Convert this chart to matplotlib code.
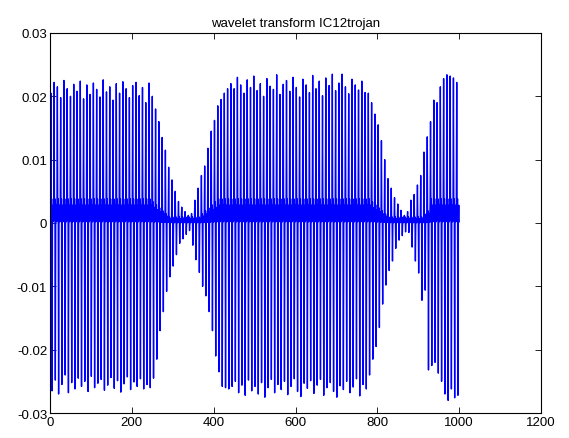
import numpy as np
import matplotlib
matplotlib.use('Agg')
import matplotlib.pyplot as plt

# Коэффициенты вейвлет-преобразования, по блокам из 8 отсчётов:
# в каждом блоке один положительный и один отрицательный выброс
hi = [0.0205, 0.0222, 0.0215, 0.0198, 0.0225, 0.0212, 0.0200, 0.0219, 0.0208, 0.0224,
      0.0196, 0.0218, 0.0203, 0.0221, 0.0211, 0.0199, 0.0226, 0.0207, 0.0215, 0.0194,
      0.0220, 0.0205, 0.0223, 0.0212, 0.0198, 0.0217, 0.0222, 0.0201, 0.0214, 0.0190,
      0.0221, 0.0200, 0.0180, 0.0160, 0.0135, 0.0115, 0.0088, 0.0068, 0.0050, 0.0034,
      0.0025, 0.0018, 0.0012, 0.0015, 0.0036, 0.0055, 0.0075, 0.0090, 0.0118, 0.0145,
      0.0162, 0.0185, 0.0195, 0.0205, 0.0212, 0.0220, 0.0212, 0.0230, 0.0218, 0.0205,
      0.0226, 0.0214, 0.0232, 0.0209, 0.0220, 0.0200, 0.0228, 0.0216, 0.0211, 0.0234,
      0.0203, 0.0219, 0.0225, 0.0208, 0.0230, 0.0214, 0.0199, 0.0227, 0.0218, 0.0206,
      0.0233, 0.0212, 0.0224, 0.0201, 0.0229, 0.0217, 0.0235, 0.0209, 0.0221, 0.0235,
      0.0215, 0.0204, 0.0227, 0.0218, 0.0210, 0.0224, 0.0206, 0.0205, 0.0190, 0.0172,
      0.0155, 0.0130, 0.0100, 0.0070, 0.0055, 0.0040, 0.0030, 0.0020, 0.0012, 0.0018,
      0.0036, 0.0045, 0.0060, 0.0075, 0.0112, 0.0136, 0.0160, 0.0194, 0.0190, 0.0215,
      0.0228, 0.0234, 0.0232, 0.0229, 0.0222]
lo = [-0.0265, -0.0248, -0.0270, -0.0255, -0.0240, -0.0268, -0.0252, -0.0262, -0.0245, -0.0258,
      -0.0250, -0.0266, -0.0242, -0.0260, -0.0253, -0.0247, -0.0264, -0.0256, -0.0244, -0.0261,
      -0.0249, -0.0267, -0.0254, -0.0243, -0.0263, -0.0251, -0.0258, -0.0246, -0.0262, -0.0255,
      -0.0260, -0.0245, -0.0215, -0.0170, -0.0140, -0.0108, -0.0085, -0.0068, -0.0050, -0.0032,
      -0.0025, -0.0018, -0.0012, -0.0035, -0.0058, -0.0078, -0.0100, -0.0115, -0.0140, -0.0170,
      -0.0210, -0.0235, -0.0258, -0.0260, -0.0262, -0.0258, -0.0250, -0.0268, -0.0256, -0.0272,
      -0.0248, -0.0265, -0.0258, -0.0270, -0.0252, -0.0275, -0.0260, -0.0247, -0.0268, -0.0255,
      -0.0263, -0.0250, -0.0271, -0.0258, -0.0246, -0.0266, -0.0274, -0.0253, -0.0261, -0.0249,
      -0.0269, -0.0256, -0.0247, -0.0272, -0.0260, -0.0252, -0.0266, -0.0275, -0.0257, -0.0263,
      -0.0250, -0.0268, -0.0259, -0.0246, -0.0273, -0.0255, -0.0262, -0.0240, -0.0215, -0.0195,
      -0.0165, -0.0128, -0.0098, -0.0075, -0.0060, -0.0040, -0.0027, -0.0020, -0.0014, -0.0015,
      -0.0038, -0.0060, -0.0079, -0.0122, -0.0106, -0.0232, -0.0225, -0.0220, -0.0237, -0.0250,
      -0.0270, -0.0280, -0.0262, -0.0276, -0.0272]
# ширина "полосы" мелких колебаний около нуля в каждом блоке
band = ([0.004] * 31 + [0.0035, 0.003, 0.0025, 0.002, 0.0015] + [0.001] * 10 +
        [0.0015, 0.002, 0.0025, 0.003, 0.0035] + [0.004] * 47 +
        [0.0035, 0.003, 0.0025, 0.002, 0.0015, 0.001, 0.001, 0.001, 0.001, 0.001,
         0.001, 0.001, 0.001, 0.001, 0.001, 0.001, 0.0015, 0.002] + [0.004] * 9)
# доли ширины полосы для промежуточных отсчётов блока
fill = [0.85, 0.1, 0.95, 0.2, 0.7, 0.05]

xticks = [0, 200, 400, 600, 800, 1000, 1200]
yticks = [-0.03, -0.02, -0.01, 0, 0.01, 0.02, 0.03]
ylabels = ['-0.03', '-0.02', '-0.01', '0', '0.01', '0.02', '0.03']

hi = np.array(hi)
lo = np.array(lo)
band = np.array(band)
y = np.column_stack([band * fill[0], hi, band * fill[1], band * fill[2],
                     lo, band * fill[3], band * fill[4], band * fill[5]]).ravel()
x = np.arange(1, len(y) + 1)

plt.rcParams['font.family'] = ['Liberation Sans', 'DejaVu Sans']
fig = plt.figure(figsize=(5.69, 4.39), dpi=100)
ax = fig.add_axes([0.0879, 0.0569, 0.8629, 0.8657])
ax.plot(x, y, color='#0000ff', linewidth=1.0)

ax.set_xlim(0, 1200)
ax.set_ylim(-0.03, 0.03)
ax.set_xticks(xticks)
ax.set_yticks(yticks)
ax.set_yticklabels(ylabels)
ax.tick_params(direction='in', length=4, width=0.6, top=True, right=True, labelsize=9.5, pad=2)
for s in ax.spines.values():
    s.set_linewidth(0.8)
ax.set_title('wavelet transform IC12trojan', fontsize=9.5, pad=5)

fig.savefig('out.png', dpi=100)
